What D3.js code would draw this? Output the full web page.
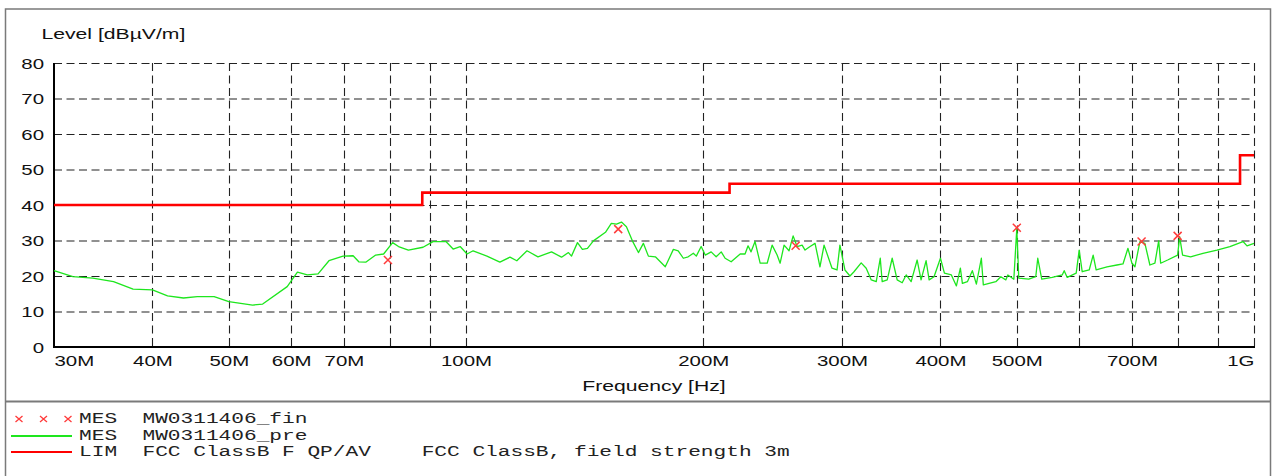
<!DOCTYPE html>
<html>
<head>
<meta charset="utf-8">
<script src="https://cdn.jsdelivr.net/npm/d3@7"></script>
<style>
  html, body { margin: 0; padding: 0; background: #fff; }
  svg { display: block; }
</style>
</head>
<body>
<svg id="chart" width="1274" height="476"></svg>
<script>
// ---------------- DATA ----------------
const yTicks = [0, 10, 20, 30, 40, 50, 60, 70, 80];
const gridFreqs = [40, 50, 60, 70, 80, 90, 100, 200, 300, 400, 500, 600, 700, 800, 900, 1000];
const labelFreqs = [30, 40, 50, 60, 70, 100, 200, 300, 400, 500, 700, 1000];
const labelTexts = ["30M", "40M", "50M", "60M", "70M", "100M", "200M", "300M", "400M", "500M", "700M", "1G"];

// MES MW0311406_pre (frequency in MHz, level in dBuV/m)
const preFreq = [30.0, 31.7, 33.6, 35.7, 37.8, 40.0, 41.8, 43.8, 45.6, 47.9, 50.0, 53.6, 55.2, 59.3, 61.1, 62.9, 64.9, 67.0, 69.8, 71.9,
  73.1, 74.6, 76.8, 78.6, 80.7, 82.1, 84.5, 88.2, 90.8, 94.3, 96.3, 98.3, 100.3, 102.1, 106.3, 110.4, 113.7, 116.0, 119.5, 123.4,
  128.4, 132.2, 134.9, 136.1, 138.5, 140.5, 142.6, 145.1, 150.3, 152.9, 155.2, 157.5, 159.8, 162.6, 165.5, 167.9, 170.4, 173.9, 179.0, 183.3,
  185.9, 188.7, 191.4, 194.3, 196.0, 198.8, 201.2, 204.7, 207.7, 210.8, 213.2, 217.0, 222.8, 226.0, 228.0, 230.0, 232.7, 236.2, 241.1, 244.6,
  248.2, 250.4, 253.3, 257.0, 260.1, 263.1, 267.0, 269.3, 273.3, 277.3, 281.3, 284.7, 291.4, 295.7, 298.2, 302.6, 307.1, 310.7, 317.3, 322.0,
  326.8, 331.6, 335.5, 337.4, 342.4, 347.4, 352.5, 357.7, 361.9, 367.2, 373.7, 378.0, 383.6, 387.0, 392.6, 400.0, 404.7, 413.0, 419.1, 424.0,
  426.5, 432.8, 439.1, 444.3, 450.8, 453.4, 470.3, 477.2, 484.2, 487.1, 495.7, 500.0, 502.9, 517.8, 528.5, 531.6, 537.8, 554.6, 571.0, 574.3,
  579.4, 594.8, 600.0, 605.3, 617.8, 625.0, 630.5, 650.8, 670.0, 681.9, 691.9, 700.0, 706.1, 716.5, 727.0, 737.7, 748.6, 756.9, 761.3, 777.0,
  800.0, 804.7, 811.7, 830.9, 861.5, 897.4, 932.0, 968.4, 979.8, 1000];
const preLevel = [21.5, 19.8, 19.4, 18.4, 16.3, 16.1, 14.4, 13.8, 14.2, 14.2, 12.8, 11.8, 12.1, 17.0, 21.1, 20.3, 20.6, 24.3, 25.6, 25.7,
  24.0, 23.9, 25.9, 26.2, 29.4, 28.3, 27.3, 28.1, 29.7, 29.7, 27.6, 28.3, 26.2, 27.1, 25.6, 23.9, 25.3, 24.3, 27.1, 25.4,
  26.8, 25.3, 26.6, 25.6, 29.4, 27.5, 27.8, 29.9, 32.3, 34.8, 34.6, 35.2, 33.9, 29.9, 26.6, 29.2, 25.6, 25.4, 22.6, 27.5,
  27.1, 25.0, 25.4, 26.4, 25.6, 28.3, 25.9, 26.8, 25.4, 26.8, 25.0, 24.0, 26.2, 26.2, 28.5, 26.8, 29.7, 23.6, 23.6, 28.7,
  25.9, 23.6, 28.7, 27.1, 31.3, 28.3, 28.7, 27.3, 28.3, 29.2, 22.6, 28.7, 22.2, 21.7, 28.7, 21.7, 20.0, 21.2, 23.7, 22.2,
  18.9, 18.4, 25.0, 18.4, 18.9, 25.0, 18.9, 18.1, 20.3, 18.4, 24.5, 18.9, 24.3, 18.9, 19.8, 25.0, 20.8, 20.3, 17.2, 22.2,
  17.9, 18.4, 21.5, 17.7, 25.0, 17.5, 18.4, 19.8, 18.9, 20.3, 19.1, 33.4, 19.4, 19.1, 19.8, 25.0, 19.1, 19.6, 20.3, 21.5,
  19.6, 20.8, 27.3, 21.2, 21.7, 25.9, 21.7, 22.6, 23.1, 23.4, 27.8, 23.6, 22.6, 29.7, 29.2, 23.1, 23.6, 29.9, 23.6, 24.5,
  25.9, 31.1, 25.9, 25.4, 26.4, 27.3, 28.3, 29.7, 28.5, 29.2];

// MES MW0311406_fin (final measurements)
const finFreq = [79.6, 156.0, 262.0, 500.0, 720.0, 800.0];
const finLevel = [24.5, 33.2, 28.5, 33.6, 29.7, 31.3];

// LIM FCC ClassB (step limit)
const limFreq = [30, 88, 216, 960, 1000];
const limLevel = [40, 43.5, 46, 54, 54];

// Legend
const legendKinds = ["MES", "MES", "LIM"];
const legendNames = ["MW0311406_fin", "MW0311406_pre", "FCC ClassB F QP/AV"];
const legendDescs = ["", "", "FCC ClassB, field strength 3m"];

// ---------------- DRAW ----------------
const SX = 1.46; // horizontal stretch of the original picture
const svg = d3.select("#chart");
const pLeft = 54, pRight = 1254, pTop = 63, pBottom = 347;
const x = d3.scaleLog().domain([30, 1000]).range([pLeft, pRight]);
const y = d3.scaleLinear().domain([0, 80]).range([pBottom, pTop]);

svg.append("rect").attr("width", 1274).attr("height", 476).attr("fill", "#fff");

// outer frame and legend separator
svg.append("rect").attr("x", 5.5).attr("y", 9).attr("width", 1265).attr("height", 490)
  .attr("fill", "none").attr("stroke", "#7a7a7a").attr("stroke-width", 1.5);
svg.append("line").attr("x1", 5).attr("x2", 1271).attr("y1", 401.5).attr("y2", 401.5)
  .attr("stroke", "#7a7a7a").attr("stroke-width", 2);

// gridlines
const grid = svg.append("g").attr("stroke", "#222").attr("stroke-width", 1.1).attr("stroke-dasharray", "8,4.5");
grid.selectAll("line.h").data(yTicks.filter(d => d > 0)).join("line")
  .attr("x1", pLeft).attr("x2", pRight).attr("y1", d => y(d) + 0.5).attr("y2", d => y(d) + 0.5);
grid.selectAll("line.v").data(gridFreqs).join("line")
  .attr("x1", d => Math.round(x(d)) + 0.5).attr("x2", d => Math.round(x(d)) + 0.5)
  .attr("y1", pTop).attr("y2", pBottom);

// axes lines
svg.append("line").attr("x1", pLeft).attr("x2", pLeft).attr("y1", pTop).attr("y2", pBottom + 1)
  .attr("stroke", "#000").attr("stroke-width", 2);
svg.append("line").attr("x1", pLeft - 1).attr("x2", pRight + 1).attr("y1", pBottom).attr("y2", pBottom)
  .attr("stroke", "#000").attr("stroke-width", 2);

// y axis labels
const yAxis = d3.axisLeft(y).tickValues(yTicks).tickSize(0).tickPadding(0);
const gy = svg.append("g").attr("transform", `translate(${pLeft},0)`).call(yAxis);
gy.select(".domain").remove();
gy.selectAll("text")
  .attr("x", -10 / SX).attr("dy", "0.36em")
  .attr("transform", `scale(${SX},1)`)
  .attr("fill", "#111").style("font-family", "Liberation Sans, Arial, sans-serif").style("font-size", "14px");

// x axis labels
const xAxis = d3.axisBottom(x).tickValues(labelFreqs).tickSize(0).tickPadding(0)
  .tickFormat((d, i) => labelTexts[i]);
const gx = svg.append("g").attr("transform", `translate(0,${pBottom})`).call(xAxis);
gx.select(".domain").remove();
gx.selectAll("text")
  .attr("y", 19).attr("dy", 0)
  .attr("transform", `scale(${SX},1)`)
  .attr("text-anchor", (d, i) => i === 0 ? "start" : (i === labelFreqs.length - 1 ? "end" : "middle"))
  .attr("fill", "#111").style("font-family", "Liberation Sans, Arial, sans-serif").style("font-size", "14px");

// axis titles
function stretchedText(px, py, txt, anchor, size, family) {
  return svg.append("text")
    .attr("transform", `translate(${px},${py}) scale(${SX},1)`)
    .attr("text-anchor", anchor)
    .attr("fill", "#111")
    .style("font-family", family || "Liberation Sans, Arial, sans-serif")
    .style("font-size", size + "px")
    .text(txt);
}
stretchedText(41.5, 39, "Level [dBµV/m]", "start", 14.5);
stretchedText((pLeft + pRight) / 2, 391, "Frequency [Hz]", "middle", 14.5);

// limit line
const limPts = limFreq.map((f, i) => [f, limLevel[i]]);
svg.append("path").datum(limPts)
  .attr("d", d3.line().x(d => x(d[0])).y(d => y(d[1])).curve(d3.curveStepAfter))
  .attr("fill", "none").attr("stroke", "#ff0000").attr("stroke-width", 2.6);

// pre-scan line
const prePts = preFreq.map((f, i) => [f, preLevel[i]]);
svg.append("path").datum(prePts)
  .attr("d", d3.line().x(d => x(d[0])).y(d => y(d[1])))
  .attr("fill", "none").attr("stroke", "#1ee61e").attr("stroke-width", 1.3).attr("stroke-linejoin", "round");

// final markers
const xMark = (s, h) => `M${-s},${-h}L${s},${h}M${-s},${h}L${s},${-h}`;
svg.append("g").selectAll("path").data(finFreq.map((f, i) => [f, finLevel[i]])).join("path")
  .attr("transform", d => `translate(${x(d[0])},${y(d[1])})`)
  .attr("d", xMark(4, 4))
  .attr("fill", "none").attr("stroke", "#ff3b3b").attr("stroke-width", 1.5);

// legend
const rowY = [423, 440, 456];
const legendFont = "Liberation Mono, Courier New, monospace";
svg.append("g").selectAll("path").data([19, 43.5, 68]).join("path")
  .attr("transform", d => `translate(${d},${rowY[0] - 4})`)
  .attr("d", xMark(3.5, 3))
  .attr("fill", "none").attr("stroke", "#ff3b3b").attr("stroke-width", 1.3);
svg.append("line").attr("x1", 11).attr("x2", 72).attr("y1", 436).attr("y2", 436)
  .attr("stroke", "#1ee61e").attr("stroke-width", 1.8);
svg.append("line").attr("x1", 11).attr("x2", 72).attr("y1", 452).attr("y2", 452)
  .attr("stroke", "#ff0000").attr("stroke-width", 1.8);
legendKinds.forEach((k, i) => {
  let s = k + "  " + legendNames[i];
  if (legendDescs[i]) s += "    " + legendDescs[i];
  stretchedText(79, rowY[i], s, "start", 14.5, legendFont)
    .attr("xml:space", "preserve").style("white-space", "pre").attr("fill", "#222");
});
</script>
</body>
</html>
